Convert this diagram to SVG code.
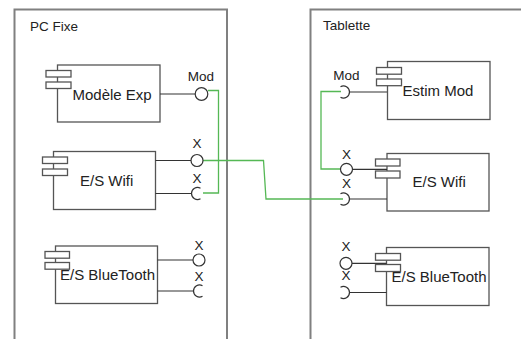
<svg xmlns="http://www.w3.org/2000/svg" width="521" height="339" viewBox="0 0 521 339">
<style>
.frame{fill:none;stroke:#808080;stroke-width:2}
.box{fill:#fff;stroke:#555;stroke-width:1.3}
.ln{fill:none;stroke:#333;stroke-width:1.2}
.ball{fill:#fff;stroke:#333;stroke-width:1.2}
.wire{fill:none;stroke:#55b855;stroke-width:1.3}
.name{font-family:"Liberation Sans",Arial,sans-serif;font-size:15px;fill:#222}
.lbl{font-family:"Liberation Sans",Arial,sans-serif;font-size:13.5px;fill:#222}
.lblc{font-family:"Liberation Sans",Arial,sans-serif;font-size:13.5px;fill:#222;text-anchor:middle}
</style>
<rect width="521" height="339" fill="#fff"/>
<g id="pc-fixe">
<path class="frame" d="M14.5 339 V9.5 H227 V339"/>
<text class="lbl" x="30" y="31">PC Fixe</text>
</g>
<g id="tablette">
<path class="frame" d="M310.5 339 V9.5 H522"/>
<text class="lbl" x="323" y="29.5">Tablette</text>
</g>
<g id="connectors">
<path class="wire" d="M208 90.5 H218.5 V193 H203"/>
<path class="wire" d="M203 160.5 H263.5 L266 199 H343"/>
<path class="wire" d="M341 91.5 H321 V169 H340.5"/>
</g>
<g id="modele-exp">
<rect class="box" x="57.5" y="65" width="102.5" height="57"/>
<rect class="box" x="46" y="70.5" width="25" height="6.5"/>
<rect class="box" x="46" y="82" width="25" height="6.5"/>
<text class="name" x="72.5" y="100">Modèle Exp</text>
<line class="ln" x1="160" y1="94" x2="195" y2="94"/>
<circle class="ball" cx="201.5" cy="94" r="6.3"/>
<text class="lblc" x="201" y="81">Mod</text>
</g>
<g id="pc-wifi">
<rect class="box" x="53.5" y="151.5" width="102" height="58"/>
<rect class="box" x="42.5" y="157" width="25" height="6.5"/>
<rect class="box" x="42.5" y="169" width="25" height="6.5"/>
<text class="name" x="80" y="186">E/S Wifi</text>
<line class="ln" x1="155.5" y1="160.5" x2="191" y2="160.5"/>
<circle class="ball" cx="197" cy="160.5" r="6"/>
<text class="lblc" x="197" y="148">X</text>
<line class="ln" x1="155.5" y1="193.5" x2="191.5" y2="193.5"/>
<path class="ln" d="M200.5 188.3 A6 6 0 1 0 200.5 198.7"/>
<text class="lblc" x="197" y="183">X</text>
</g>
<g id="pc-bluetooth">
<rect class="box" x="55.5" y="246" width="102" height="57.5"/>
<rect class="box" x="45" y="251.5" width="24.5" height="6.7"/>
<rect class="box" x="45" y="262.5" width="24.5" height="6.7"/>
<text class="name" x="60" y="280">E/S BlueTooth</text>
<line class="ln" x1="157.5" y1="260" x2="193" y2="260"/>
<circle class="ball" cx="199" cy="260" r="6"/>
<text class="lblc" x="199" y="249.5">X</text>
<line class="ln" x1="157.5" y1="291" x2="193.5" y2="291"/>
<path class="ln" d="M202.5 285.8 A6 6 0 1 0 202.5 296.2"/>
<text class="lblc" x="199" y="281">X</text>
</g>
<g id="estim-mod">
<line class="ln" x1="349.5" y1="92" x2="387.5" y2="92"/>
<rect class="box" x="387.5" y="61.5" width="102.5" height="58"/>
<rect class="box" x="376.5" y="67.5" width="25" height="6.7"/>
<rect class="box" x="376.5" y="79" width="25" height="6.7"/>
<text class="name" x="402.5" y="96">Estim Mod</text>
<path class="ln" d="M340.5 86.8 A6 6 0 1 1 340.5 97.2"/>
<text class="lblc" x="346.5" y="80">Mod</text>
</g>
<g id="tab-wifi">
<rect class="box" x="387" y="153.5" width="102" height="57.5"/>
<line class="ln" x1="352.5" y1="169.3" x2="387" y2="169.3"/>
<line class="ln" x1="349.5" y1="199" x2="387" y2="199"/>
<rect class="box" x="375.5" y="159" width="24.5" height="7"/>
<rect class="box" x="375.5" y="171" width="24.5" height="7"/>
<text class="name" x="412.5" y="186.5">E/S Wifi</text>
<circle class="ball" cx="346.5" cy="169.3" r="6"/>
<text class="lblc" x="346.5" y="158.5">X</text>
<path class="ln" d="M340.5 193.8 A6 6 0 1 1 340.5 204.2"/>
<text class="lblc" x="346.5" y="188">X</text>
</g>
<g id="tab-bluetooth">
<rect class="box" x="386.5" y="247.5" width="102.5" height="58"/>
<line class="ln" x1="352" y1="263.3" x2="386.5" y2="263.3"/>
<line class="ln" x1="349.5" y1="292.5" x2="386.5" y2="292.5"/>
<rect class="box" x="375.5" y="253.5" width="25" height="6.7"/>
<rect class="box" x="375.5" y="264.5" width="25" height="7"/>
<text class="name" x="391.5" y="281.5">E/S BlueTooth</text>
<circle class="ball" cx="346" cy="263.3" r="6"/>
<text class="lblc" x="346" y="251">X</text>
<path class="ln" d="M340.5 287.3 A6 6 0 1 1 340.5 297.7"/>
<text class="lblc" x="346" y="280">X</text>
</g>
</svg>
